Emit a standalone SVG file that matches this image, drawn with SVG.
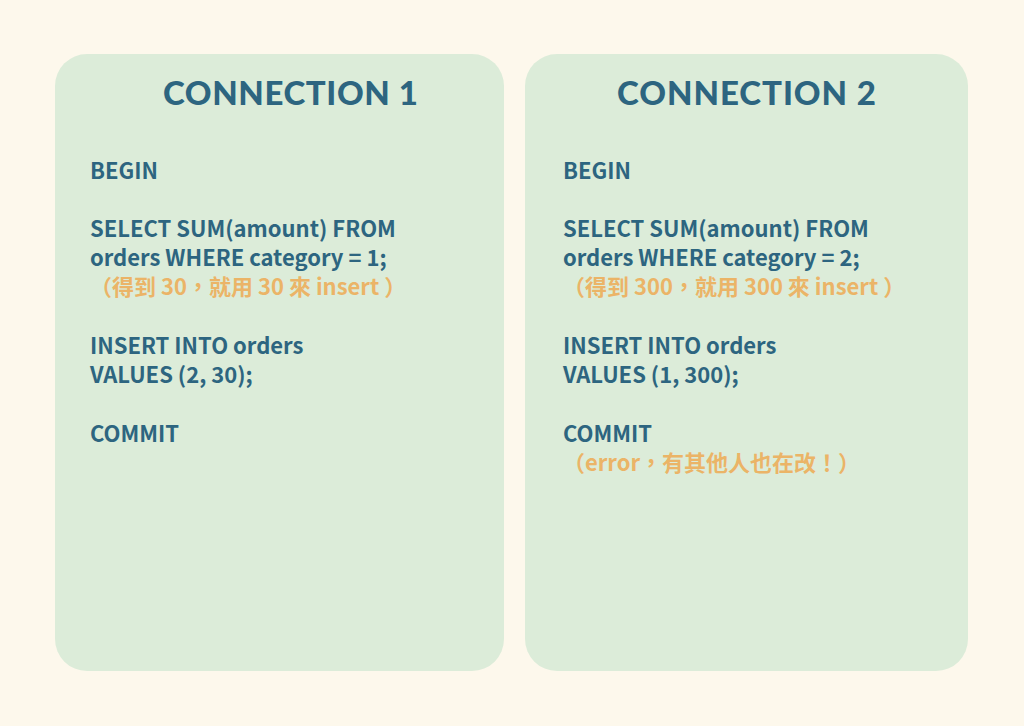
<svg xmlns="http://www.w3.org/2000/svg" width="1024" height="726" viewBox="0 0 1024 726">
<style>
.card{fill:#dcecd9}
.title{font-family:"Lato","Noto Sans",sans-serif;font-weight:900;font-size:33px;fill:#2d6580}
.t{font-family:"Noto Sans CJK TC","Noto Sans",sans-serif;font-weight:700;font-size:22px;fill:#2d6580}
.o{font-family:"Noto Sans CJK TC","Noto Sans",sans-serif;font-weight:700;font-size:22px;fill:#ebb467}
</style>
<rect width="1024" height="726" fill="#fdf8ec"/>
<g id="connection1">
<rect class="card" x="55" y="54" width="449" height="617" rx="32"/>
<text class="title" x="163" y="105" textLength="255" lengthAdjust="spacing">CONNECTION 1</text>
<text class="t" x="90" y="179">BEGIN</text>
<text class="t" x="90" y="237">SELECT SUM(amount) FROM</text>
<text class="t" x="90" y="266">orders WHERE category = 1;</text>
<text class="o" x="90" y="295">（得到 30，就用 30 來 insert ）</text>
<text class="t" x="90" y="354">INSERT INTO orders</text>
<text class="t" x="90" y="383">VALUES (2, 30);</text>
<text class="t" x="90" y="442">COMMIT</text>
</g>
<g id="connection2">
<rect class="card" x="525" y="54" width="443" height="617" rx="32"/>
<text class="title" x="617" y="105" textLength="259" lengthAdjust="spacing">CONNECTION 2</text>
<text class="t" x="563" y="179">BEGIN</text>
<text class="t" x="563" y="237">SELECT SUM(amount) FROM</text>
<text class="t" x="563" y="266">orders WHERE category = 2;</text>
<text class="o" x="563" y="295">（得到 300，就用 300 來 insert ）</text>
<text class="t" x="563" y="354">INSERT INTO orders</text>
<text class="t" x="563" y="383">VALUES (1, 300);</text>
<text class="t" x="563" y="442">COMMIT</text>
<text class="o" x="563" y="471">（error，有其他人也在改！）</text>
</g>
<g id="connectors"/>
</svg>
